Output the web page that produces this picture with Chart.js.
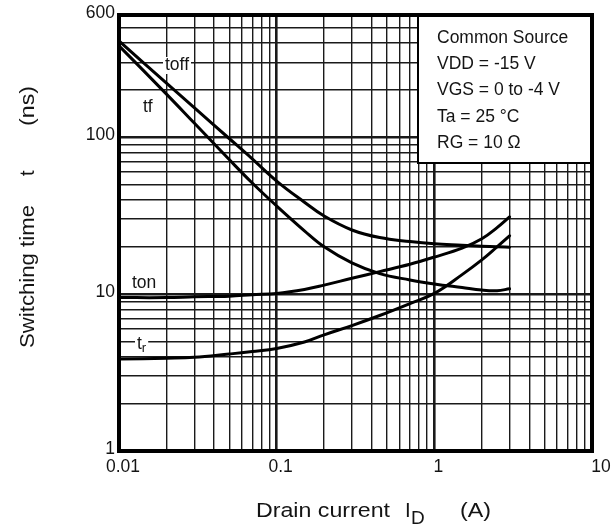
<!DOCTYPE html>
<html><head><meta charset="utf-8">
<script src="https://cdn.jsdelivr.net/npm/chart.js@4.4.1/dist/chart.umd.min.js"></script>
<style>html,body{margin:0;padding:0;background:#fff;}#wrap{width:612px;height:526px;position:relative;}</style>
</head><body><div id="wrap"><canvas id="c" width="612" height="526"></canvas></div>
<script>
// ---- data ----
const current = [0.01, 0.02, 0.03, 0.05, 0.07, 0.1, 0.15, 0.2, 0.3, 0.45, 0.7, 1, 1.5, 2, 2.5, 3];
const tOff = [410, 221, 154, 98, 72.7, 52.5, 38.5, 31.4, 25.6, 22.9, 21.6, 20.9, 20.5, 20.2, 20.0, 19.9];
const tF   = [382, 188, 123, 72, 51, 36.4, 25.3, 20, 15.8, 13.5, 12.3, 11.6, 11, 10.6, 10.5, 10.8];
const tOn  = [9.5, 9.5, 9.6, 9.7, 9.9, 10.1, 10.7, 11.4, 12.6, 13.9, 15.5, 17.2, 19.6, 22.5, 26.5, 31];
const tR   = [3.85, 3.9, 3.95, 4.15, 4.3, 4.5, 4.95, 5.5, 6.3, 7.3, 8.7, 10.1, 13.3, 16.5, 20, 23.5];

const xGrid = [0.01,0.02,0.03,0.04,0.05,0.06,0.07,0.08,0.09,0.1,0.2,0.3,0.4,0.5,0.6,0.7,0.8,0.9,1,2,3,4,5,6,7,8,9,10];
const yGrid = [1,2,3,4,5,6,7,8,9,10,20,30,40,50,60,70,80,90,100,200,300,400,500,600];
const xTickValues = [0.01, 0.1, 1, 10];
const xTickLabels = ['0.01', '0.1', '1', '10'];
const yTickValues = [1, 10, 100, 600];
const yTickLabels = ['1', '10', '100', '600'];
const conditionLines = ['Common Source', 'VDD = -15 V', 'VGS = 0 to -4 V', 'Ta = 25 °C', 'RG = 10 Ω'];
const xTitle = ['Drain current', 'I', 'D', '(A)'];
const yTitle = ['Switching time', 't', '(ns)'];

const FONT = '"Liberation Sans", Arial, sans-serif';
const TXT = '#141414';
const majorX = [0.01, 0.1, 1, 10];
const majorY = [1, 10, 100];

function pts(ys){ return current.map((x,i)=>({x:x, y:ys[i]})); }
function ds(ys){ return {data: pts(ys), borderColor:'#000', borderWidth:3, pointRadius:0, showLine:true, fill:false, tension:0.4, borderCapStyle:'round'}; }

const deco = {
  id:'deco',
  afterDatasetsDraw(chart){
    const ctx = chart.ctx, xs = chart.scales.x, ys = chart.scales.y, a = chart.chartArea;
    function fit(txt, x, y, px, w){
      ctx.font = px+'px '+FONT;
      const m = ctx.measureText(txt).width;
      ctx.save(); ctx.translate(x, y); ctx.scale(w ? w/m : 1, 1); ctx.fillText(txt, 0, 0); ctx.restore();
    }
    ctx.save();
    // conditions box
    ctx.fillStyle='#fff'; ctx.fillRect(418, a.top, a.right-418, 163-a.top);
    ctx.strokeStyle='#000'; ctx.lineWidth=2; ctx.strokeRect(418, a.top, a.right-418, 163-a.top);
    ctx.fillStyle=TXT; ctx.textBaseline='middle'; ctx.textAlign='left';
    conditionLines.forEach((t,i)=>{ ctx.font='17.5px '+FONT; ctx.fillText(t, 437, 38 + i*26.3); });
    // curve labels
    function lab(txt, x, y, sub){
      ctx.font='17.5px '+FONT;
      let w = ctx.measureText(txt).width;
      let sw = 0;
      if (sub){ ctx.font='13px '+FONT; sw = ctx.measureText(sub).width; }
      ctx.fillStyle='#fff'; ctx.fillRect(x-2, y-8, w+sw+4, 17);
      ctx.fillStyle=TXT; ctx.font='17.5px '+FONT; ctx.textAlign='left'; ctx.textBaseline='middle';
      ctx.fillText(txt, x, y);
      if (sub){ ctx.font='13px '+FONT; ctx.fillText(sub, x+w, y+4); }
    }
    lab('toff', 165, 65);
    lab('tf', 143, 107);
    lab('ton', 132, 283);
    lab('t', 137, 344, 'r');
    // frame
    ctx.lineWidth=4; ctx.strokeStyle='#000';
    ctx.strokeRect(a.left, a.top, a.right-a.left, a.bottom-a.top);
    // tick labels
    ctx.fillStyle=TXT; ctx.font='17.5px '+FONT; ctx.textBaseline='middle';
    ctx.textAlign='center';
    xTickValues.forEach((v,i)=>{
      let px = xs.getPixelForValue(v) + 4;
      if (i === xTickValues.length-1) px = xs.getPixelForValue(v) + 9;
      ctx.fillText(xTickLabels[i], px, 467);
    });
    ctx.textAlign='right';
    yTickValues.forEach((v,i)=>{
      ctx.fillText(yTickLabels[i], 115, ys.getPixelForValue(v) - 2);
    });
    // x title
    ctx.textAlign='left'; ctx.textBaseline='alphabetic';
    fit(xTitle[0], 256, 517, 20.5, 134);
    fit(xTitle[1], 405, 517, 20.5, 0);
    fit(xTitle[2], 411, 524, 19, 0);
    fit(xTitle[3], 460, 517, 20.5, 31);
    // y title
    ctx.translate(34, 348); ctx.rotate(-Math.PI/2);
    fit(yTitle[0], 0, 0, 20.5, 143);
    fit(yTitle[1], 172, 0, 20.5, 0);
    fit(yTitle[2], 222, 0, 20.5, 40);
    ctx.restore();
  }
};

new Chart(document.getElementById('c'), {
  type:'scatter',
  data:{ datasets:[ds(tOff), ds(tF), ds(tOn), ds(tR)] },
  options:{
    responsive:false, animation:false, devicePixelRatio:1,
    layout:{ padding:{ left:119, right:20, top:15, bottom:75 } },
    plugins:{ legend:{display:false}, tooltip:{enabled:false} },
    scales:{
      x:{ type:'logarithmic', min:0.01, max:10,
        afterBuildTicks(s){ s.ticks = xGrid.map(v=>({value:v})); },
        ticks:{ display:false },
        grid:{ drawTicks:false, color:'#1a1a1a',
          lineWidth:c=> (c.tick && majorX.some(m=>Math.abs(m-c.tick.value)<1e-9)) ? 2.6 : 1.4 },
        border:{ display:false }
      },
      y:{ type:'logarithmic', min:1, max:600,
        afterBuildTicks(s){ s.ticks = yGrid.map(v=>({value:v})); },
        ticks:{ display:false },
        grid:{ drawTicks:false, color:'#1a1a1a',
          lineWidth:c=> (c.tick && majorY.some(m=>Math.abs(m-c.tick.value)<1e-9)) ? 2.4 : 1.4 },
        border:{ display:false }
      }
    }
  },
  plugins:[deco]
});
</script></body></html>
